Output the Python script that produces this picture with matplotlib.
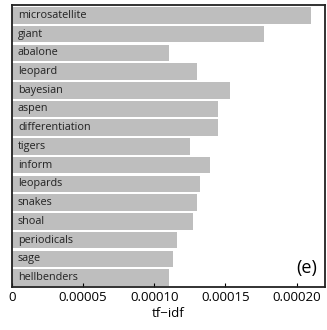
import matplotlib
matplotlib.use("Agg")
import matplotlib.pyplot as plt

words = ["microsatellite", "giant", "abalone", "leopard", "bayesian", "aspen",
         "differentiation", "tigers", "inform", "leopards", "snakes", "shoal",
         "periodicals", "sage", "hellbenders"]
scores = [0.000210, 0.000177, 0.000110, 0.000130, 0.000153, 0.000145,
          0.000145, 0.000125, 0.000139, 0.000132, 0.000130, 0.000127,
          0.000116, 0.000113, 0.000110]
xticks = [0, 0.00005, 0.00010, 0.00015, 0.00020]
xticklabels = ["0", "0.00005", "0.00010", "0.00015", "0.00020"]

plt.rcParams['font.family'] = ['Open Sans', 'DejaVu Sans']

fig = plt.figure(figsize=(3.27, 3.30), dpi=100)
ax = fig.add_axes([12/327, 43/330, 313/327, 282/330])

pos = list(range(len(words)))
ax.barh(pos, scores, height=0.88, color="#bebebe")
for i, w in enumerate(words):
    ax.text(0.0000042, i, w, va="center", ha="left", fontsize=7.8, color="#222222")

ax.set_ylim(len(words) - 0.5, -0.55)
ax.set_xlim(0, 0.00022)
ax.set_yticks([])
ax.set_xticks(xticks)
ax.set_xticklabels(xticklabels, fontsize=9.5)
ax.tick_params(axis="x", direction="in", length=3, pad=3)
ax.set_xlabel("tf\u2212idf", fontsize=9.5, labelpad=2)
for s in ax.spines.values():
    s.set_linewidth(1.3)
    s.set_color("#222222")
ax.text(0.975, 0.035, "(e)", transform=ax.transAxes, ha="right", va="bottom", fontsize=13)

fig.savefig("out.png", dpi=100)
